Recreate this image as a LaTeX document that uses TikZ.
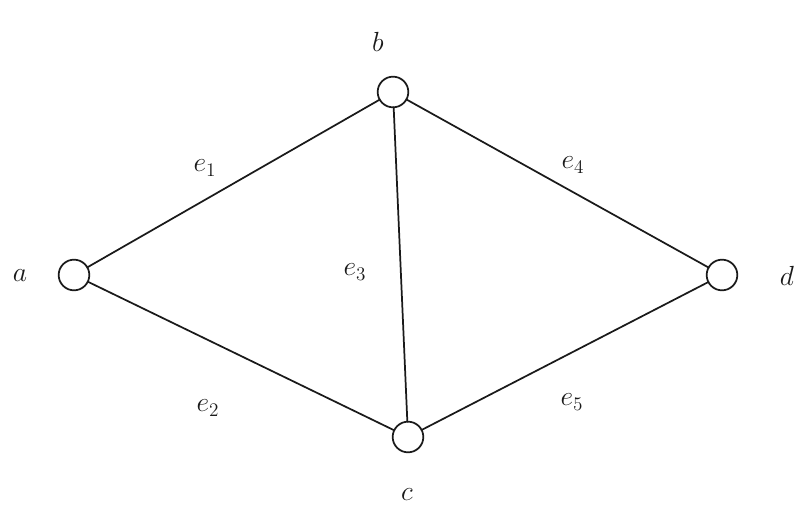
\documentclass[tikz,border=0pt]{standalone}
\usepackage{amsmath}
\usepackage{xcolor}
\usepackage{tikz}
\usetikzlibrary{positioning}
\definecolor{ink}{HTML}{1A1A1A}
\tikzset{
    every picture/.style={line cap=round,line join=round},
    vertex/.style={draw=ink,circle,fill=white,line width=1.3pt,
      minimum size=23pt,inner sep=0pt,outer sep=0pt},
    edgeline/.style={draw=ink,line width=1.3pt},
    vlabel/.style={text=ink,font=\fontsize{22}{24}\selectfont,inner sep=1pt},
    elabel/.style={text=ink,font=\fontsize{22}{24}\selectfont,inner sep=1pt}
}
\begin{document}
\begin{tikzpicture}[x=0.75pt,y=-0.75pt]
  \useasboundingbox (0,0) rectangle (796,527);
  \node[vertex] (a) at (74,275) {};
  \node[vertex] (b) at (393,92) {};
  \node[vertex] (c) at (408,437) {};
  \node[vertex] (d) at (722,275) {};
  \node[vlabel] (la) at (20,276) {$a$};
  \node[vlabel] (lb) at (378,42) {$b$};
  \node[vlabel] (lc) at (407,495) {$c$};
  \node[vlabel] (ld) at (787,276) {$d$};
  \draw[edgeline] (a)--(b);
  \draw[edgeline] (a)--(c);
  \draw[edgeline] (b)--(c);
  \draw[edgeline] (b)--(d);
  \draw[edgeline] (c)--(d);
  \node[elabel] (e1) at (205,168) {$e_1$};
  \node[elabel] (e2) at (208,408) {$e_2$};
  \node[elabel] (e3) at (355,272) {$e_3$};
  \node[elabel] (e4) at (573,165) {$e_4$};
  \node[elabel] (e5) at (572,402) {$e_5$};
\end{tikzpicture}
\end{document}
